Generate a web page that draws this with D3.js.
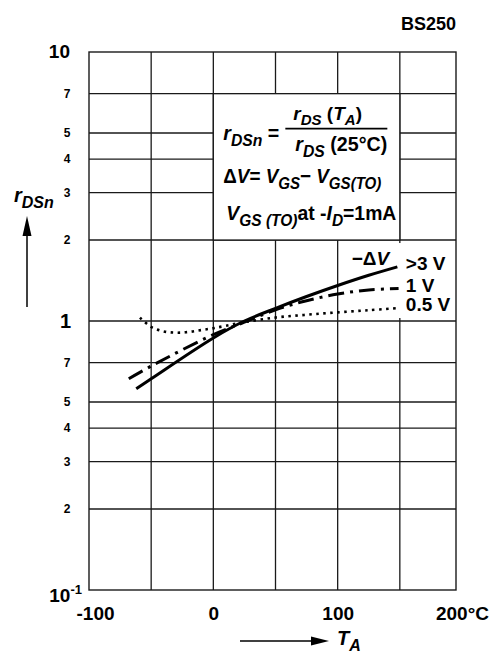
<!DOCTYPE html>
<html>
<head>
<meta charset="utf-8">
<script src="https://cdn.jsdelivr.net/npm/d3@7"></script>
<style>
  body { margin: 0; background: #fff; }
  svg text { font-family: "Liberation Sans", Arial, Helvetica, sans-serif; font-weight: bold; fill: #000; }
</style>
</head>
<body>
<div id="canvas"></div>
<script>
// axis ticks / grid
const xTickValues = [-100, 0, 100, 200];
const xTickLabels = ["-100", "0", "100", "200°C"];
const xGridValues = [-50, 0, 50, 100, 150];
const yGridValues = [0.2, 0.3, 0.4, 0.5, 0.7, 1, 2, 3, 4, 5, 7];
const yMinorTicks = [0.2, 0.3, 0.4, 0.5, 0.7, 2, 3, 4, 5, 7];
const yMinorLabels = ["2", "3", "4", "5", "7", "2", "3", "4", "5", "7"];

// -dV > 3 V (solid)
const tempSolid = [-62, -50, 0, 25, 50, 75, 100, 125, 148];
const rSolid    = [0.56, 0.61, 0.865, 1.0, 1.114, 1.233, 1.355, 1.479, 1.59];
// -dV = 1 V (dash dot)
const tempDashDot = [-68, -50, 0, 25, 50, 75, 100, 125, 149];
const rDashDot    = [0.61, 0.68, 0.89, 0.99, 1.10, 1.19, 1.26, 1.305, 1.32];
// -dV = 0.5 V (dotted)
const tempDotted = [-59, -50, -40, -30, -20, -10, 0, 10, 25, 50, 75, 100, 125, 147];
const rDotted    = [1.03, 0.95, 0.915, 0.905, 0.91, 0.925, 0.94, 0.96, 0.99, 1.03, 1.055, 1.077, 1.097, 1.115];

const curveLabels = [">3 V", "1 V", "0.5 V"];

const w = 498;
const h = 654;
const margin = { top: 52, left: 89 };
const width = 367;
const height = 538;

let svg = d3.select("#canvas")
  .append("svg")
  .attr("width", w)
  .attr("height", h);

// the printed grid stops a little before 200, so the scale runs past the frame
const x = d3.scaleLinear().domain([-100, 200]).range([0, 373]);
const y = d3.scaleLog().domain([0.1, 10]).range([height, 0]);

let chart = svg.append("g")
  .attr("transform", "translate(" + margin.left + "," + margin.top + ")");

// rich text helper: italic + subscript parts
function rich(sel, parts, size, ratio) {
  ratio = ratio || 0.8;
  let cur = 0;
  parts.forEach(p => {
    let target = p.sub ? Math.round(size * 0.28) : 0;
    let t = sel.append("tspan").text(p.t).attr("dy", target - cur);
    cur = target;
    if (p.i) t.attr("font-style", "italic");
    if (p.sub) t.attr("font-size", Math.round(size * ratio));
  });
  return sel;
}
function fit(sel, len) {
  sel.attr("textLength", len).attr("lengthAdjust", "spacingAndGlyphs");
}

const gridColor = "#1a1a1a";

// grid
chart.append("g")
  .selectAll("line")
  .data(xGridValues)
  .enter()
    .append("line")
    .attr("x1", d => x(d)).attr("x2", d => x(d))
    .attr("y1", 0).attr("y2", height)
    .attr("stroke", gridColor).attr("stroke-width", 1.3);

chart.append("g")
  .selectAll("line")
  .data(yGridValues)
  .enter()
    .append("line")
    .attr("x1", 0).attr("x2", width)
    .attr("y1", d => y(d)).attr("y2", d => y(d))
    .attr("stroke", gridColor).attr("stroke-width", 1.3);

chart.append("rect")
  .attr("x", 0).attr("y", 0)
  .attr("width", width).attr("height", height)
  .attr("fill", "none").attr("stroke", gridColor).attr("stroke-width", 1.4);

// formula box
const bx = x(0), by = y(7);
chart.append("rect")
  .attr("x", bx).attr("y", by)
  .attr("width", x(150) - x(0)).attr("height", y(2) - y(7))
  .attr("fill", "#fff").attr("stroke", gridColor).attr("stroke-width", 1.3);

// white patch behind curve labels
chart.append("rect")
  .attr("x", x(150) - 2).attr("y", y(2) + 3)
  .attr("width", width - x(150)).attr("height", y(1) - y(2) - 6)
  .attr("fill", "#fff");

let box = chart.append("g").attr("transform", "translate(" + bx + "," + by + ")");
const fs = 20;
let t1 = rich(box.append("text").attr("x", 10).attr("y", 46).attr("font-size", fs),
  [{ t: "r", i: 1 }, { t: "DSn", i: 1, sub: 1 }, { t: " =" }], fs);
fit(t1, 56);
box.append("line")
  .attr("x1", 72).attr("x2", 174).attr("y1", 35).attr("y2", 35)
  .attr("stroke", "#000").attr("stroke-width", 1.6);
rich(box.append("text").attr("x", 80).attr("y", 26).attr("font-size", 19),
  [{ t: "r", i: 1 }, { t: "DS", i: 1, sub: 1 }, { t: " (" }, { t: "T", i: 1 }, { t: "A", i: 1, sub: 1 }, { t: ")" }], 19);
let t3 = rich(box.append("text").attr("x", 82).attr("y", 57).attr("font-size", fs),
  [{ t: "r", i: 1 }, { t: "DS", i: 1, sub: 1 }, { t: " (25°C)" }], fs);
fit(t3, 92);
let t4 = rich(box.append("text").attr("x", 10).attr("y", 89).attr("font-size", fs),
  [{ t: "Δ" }, { t: "V", i: 1 }, { t: "= " }, { t: "V", i: 1 }, { t: "GS", i: 1, sub: 1 }, { t: "− " },
   { t: "V", i: 1 }, { t: "GS(TO)", i: 1, sub: 1 }], fs);
fit(t4, 158);
let t5 = rich(box.append("text").attr("x", 13).attr("y", 126).attr("font-size", fs),
  [{ t: "V", i: 1 }, { t: "GS (TO)", i: 1, sub: 1 }, { t: "at -" }, { t: "I", i: 1 }, { t: "D", i: 1, sub: 1 }, { t: "=1mA" }], fs);
fit(t5, 170);

// curves
const series = [
  { temps: tempSolid, vals: rSolid, dash: null },
  { temps: tempDashDot, vals: rDashDot, dash: "16,6,3,6" },
  { temps: tempDotted, vals: rDotted, dash: "2.5,4.5" }
];
let line = d3.line()
  .x(d => x(d[0]))
  .y(d => y(d[1]))
  .curve(d3.curveCatmullRom);

chart.append("g")
  .selectAll("path")
  .data(series)
  .enter()
    .append("path")
    .attr("d", d => line(d.temps.map((t, i) => [t, d.vals[i]])))
    .attr("fill", "none")
    .attr("stroke", "#000")
    .attr("stroke-width", (d, i) => i == 2 ? 2.6 : 3)
    .attr("stroke-dasharray", d => d.dash);

chart.append("g")
  .selectAll("text")
  .data(series)
  .enter()
    .append("text")
    .attr("x", x(150) + 6)
    .attr("y", d => y(d.vals[d.vals.length - 1]) + 3)
    .attr("font-size", 19)
    .text((d, i) => curveLabels[i]);

rich(chart.append("text").attr("x", x(100) + 14).attr("y", y(2) + 25).attr("font-size", 19),
  [{ t: "−Δ" }, { t: "V", i: 1 }], 19);

// x axis labels
let xAxis = chart.append("g")
  .attr("transform", "translate(0," + height + ")")
  .call(d3.axisBottom(x).tickValues(xTickValues)
    .tickFormat((d, i) => xTickLabels[i]).tickSize(0).tickPadding(16.5));
xAxis.select(".domain").remove();
xAxis.attr("font-size", 19).attr("font-family", null);
xAxis.selectAll("text").attr("dx", d => d == -100 ? 6 : 0);

// y labels
chart.append("g")
  .selectAll("text")
  .data(yMinorTicks)
  .enter()
    .append("text")
    .attr("x", -22)
    .attr("y", d => y(d))
    .attr("dy", "0.35em")
    .attr("text-anchor", "middle")
    .attr("font-size", 12)
    .text((d, i) => yMinorLabels[i]);

chart.append("text").attr("x", -19).attr("y", y(10) + 6)
  .attr("text-anchor", "end").attr("font-size", 19).text("10");
chart.append("text").attr("x", -18).attr("y", y(1) + 7)
  .attr("text-anchor", "end").attr("font-size", 20).text("1");
let tm = chart.append("text").attr("x", -7).attr("y", y(0.1) + 12)
  .attr("text-anchor", "end").attr("font-size", 19);
tm.append("tspan").text("10");
tm.append("tspan").text("-1").attr("font-size", 13).attr("dy", -8);

// title
svg.append("text").attr("x", 456).attr("y", 30)
  .attr("text-anchor", "end").attr("font-size", 18).text("BS250");

// y title + arrow
rich(svg.append("text").attr("x", 14).attr("y", 202).attr("font-size", 20),
  [{ t: "r", i: 1 }, { t: "DSn", i: 1, sub: 1 }], 20);
svg.append("line").attr("x1", 27).attr("x2", 27).attr("y1", 307).attr("y2", 230)
  .attr("stroke", "#000").attr("stroke-width", 1.5);
svg.append("path").attr("d", "M27,216L22.5,236L31.5,236Z").attr("fill", "#000");

// x title + arrow
svg.append("line").attr("x1", 240).attr("x2", 315).attr("y1", 641).attr("y2", 641)
  .attr("stroke", "#000").attr("stroke-width", 1.5);
svg.append("path").attr("d", "M329,641L311,636.5L311,645.5Z").attr("fill", "#000");
rich(svg.append("text").attr("x", 337).attr("y", 645).attr("font-size", 20),
  [{ t: "T", i: 1 }, { t: "A", i: 1, sub: 1 }], 20);
</script>
</body>
</html>
